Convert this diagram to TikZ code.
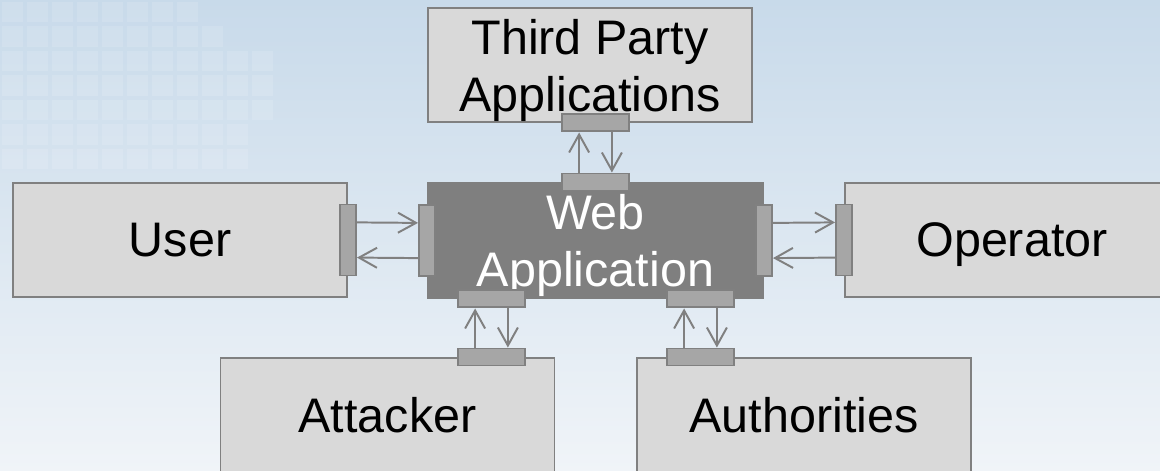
\documentclass[tikz,border=0pt]{standalone}
\usepackage{fontspec}
\setmainfont{Liberation Sans}
\usetikzlibrary{arrows.meta}
\definecolor{boxfill}{HTML}{D9D9D9}
\definecolor{boxline}{HTML}{808080}
\definecolor{portfill}{HTML}{A6A6A6}
\definecolor{webfill}{HTML}{7F7F7F}
\definecolor{bgtop}{RGB}{200,218,234}
\definecolor{bgbottom}{RGB}{240,244,248}

\begin{document}
\begin{tikzpicture}[
  font=\fontsize{34.5}{40.5}\selectfont,
  actor/.style={draw=boxline, fill=boxfill, line width=1.4pt, rectangle, minimum width=8.35cm, minimum height=2.85cm, align=center, inner sep=0pt, text depth=0pt},
  hport/.style={draw=boxline, fill=portfill, line width=1.4pt, rectangle, minimum width=1.675cm, minimum height=0.425cm, inner sep=0pt},
  vport/.style={hport, minimum width=0.4cm, minimum height=1.775cm},
  flow/.style={draw=boxline, line width=1.4pt, -{Straight Barb[length=4.5mm,width=5mm]}}
]
\clip (0,0) rectangle (29,11.775);
\shade[top color=bgtop, bottom color=bgbottom] (0,0) rectangle (29,11.775);
% faint grid in the top left corner
\foreach \r/\n in {0/8,1/9,2/11,3/11,4/11,5/10,6/10}
  \foreach \c in {1,...,\n}
    \fill[white, opacity=0.13] ({(\c-1)*0.625+0.05},{11.775-\r*0.6125-0.05}) rectangle +(0.52,-0.51);

% boxes
\node[actor, minimum width=8.1cm] (third) at (14.75,10.15) {Third Party\\Applications};
\node[actor, fill=webfill, draw=webfill, text=white, minimum width=8.375cm, minimum height=2.875cm] (web) at (14.8875,5.7625) {Web\\Application};
\node[actor] (user) at (4.5,5.775) {User};
\node[actor] (operator) at (25.3,5.775) {Operator};
\node[actor] (attacker) at (9.6875,1.4) {Attacker};
\node[actor] (authorities) at (20.1,1.4) {Authorities};

% ports
\node[vport] (userR) at (user.east) {};
\node[vport] (webL) at (web.west) {};
\node[vport] (webR) at (web.east) {};
\node[vport] (operatorL) at (operator.west) {};
\node[hport] (webT) at (web.north) {};
\node[hport] (thirdB) at (third.south -| webT) {};
\node[hport] (webBL) at ([xshift=-2.6cm]web.south) {};
\node[hport] (webBR) at ([xshift=2.625cm]web.south) {};
\node[hport] (attackerT) at (attacker.north -| webBL) {};
\node[hport] (authoritiesT) at (authorities.north -| webBR) {};

% flows
\draw[flow] ([yshift=0.44cm]userR.east) -- ([yshift=0.44cm]webL.west);
\draw[flow] ([yshift=-0.44cm]webL.west) -- ([yshift=-0.44cm]userR.east);
\draw[flow] ([yshift=0.44cm]webR.east) -- ([yshift=0.44cm]operatorL.west);
\draw[flow] ([yshift=-0.44cm]operatorL.west) -- ([yshift=-0.44cm]webR.east);
\draw[flow] ([xshift=-0.41cm]webT.north) -- ([xshift=-0.41cm]thirdB.south);
\draw[flow] ([xshift=0.41cm]thirdB.south) -- ([xshift=0.41cm]webT.north);
\draw[flow] ([xshift=-0.41cm]attackerT.north) -- ([xshift=-0.41cm]webBL.south);
\draw[flow] ([xshift=0.41cm]webBL.south) -- ([xshift=0.41cm]attackerT.north);
\draw[flow] ([xshift=-0.41cm]authoritiesT.north) -- ([xshift=-0.41cm]webBR.south);
\draw[flow] ([xshift=0.41cm]webBR.south) -- ([xshift=0.41cm]authoritiesT.north);
\end{tikzpicture}
\end{document}
